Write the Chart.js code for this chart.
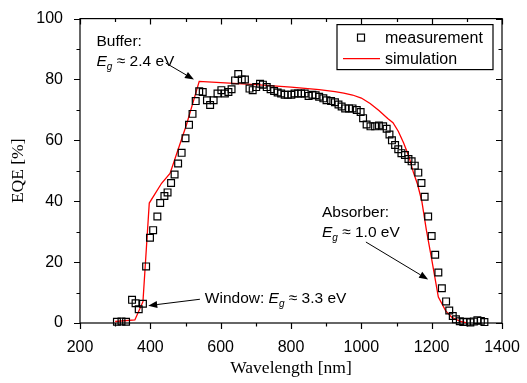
<!DOCTYPE html>
<html>
<head>
<meta charset="utf-8">
<script src="https://cdn.jsdelivr.net/npm/chart.js@4.4.1/dist/chart.umd.min.js"></script>
<style>
  html, body { margin: 0; padding: 0; background: #fff; }
  #wrap { width: 527px; height: 383px; }
</style>
</head>
<body>
<div id="wrap"><canvas id="eqeChart" width="527" height="383"></canvas></div>
<script>
// measured EQE (squares)
var measWavelength = [305, 318, 331, 348, 358, 367, 379, 388, 399, 408, 420, 428, 440, 449, 459, 469, 479, 489, 500, 510, 520, 529, 539, 549, 561, 570, 580, 591, 602, 612, 622, 631, 641, 650, 660, 669, 682, 691, 701, 712, 720, 731, 742, 752, 762, 772, 782, 791, 801, 810, 820, 829, 839, 850, 861, 870, 880, 892, 901, 914, 925, 935, 944, 954, 965, 975, 987, 998, 1005, 1015, 1026, 1039, 1050, 1062, 1072, 1080, 1087, 1096, 1105, 1114, 1124, 1134, 1143, 1152, 1162, 1171, 1180, 1190, 1200, 1210, 1219, 1229, 1241, 1250, 1260, 1269, 1280, 1290, 1300, 1310, 1320, 1330, 1340, 1350];
var measEQE = [0.4, 0.5, 0.4, 7.6, 6.5, 4.5, 6.3, 18.6, 28, 30.5, 35, 39.4, 41.7, 42.9, 46, 48.8, 52.4, 55.9, 60.7, 65.1, 68.7, 72.9, 76.1, 75.9, 73.2, 71.6, 73.2, 75.4, 76.5, 75.4, 75.9, 76.8, 79.7, 81.8, 80, 80, 77, 76.5, 77.5, 78.6, 78.3, 77.5, 76.8, 76.2, 75.7, 75.4, 75, 75, 75, 75.4, 75.4, 75.4, 75.4, 74.6, 75, 74.8, 74.3, 73.8, 73.2, 72.9, 72.5, 71.8, 71.1, 70.5, 70.5, 70.5, 70, 69.3, 67.3, 65.2, 64.6, 64.6, 64.9, 64.6, 63.8, 61.9, 60, 58.5, 57.1, 55.8, 55.2, 53.9, 53.1, 51.7, 49.4, 46, 41.5, 35, 28.6, 22.4, 16.6, 11.4, 7.1, 4.1, 2.3, 1.2, 0.6, 0.3, 0.4, 0.2, 0.5, 0.9, 0.7, 0.3];

// simulated EQE (red line)
var simWavelength = [300, 356, 379, 397, 432, 456, 503, 539, 600, 700, 800, 880, 925, 950, 975, 1000, 1025, 1050, 1075, 1090, 1105, 1120, 1135, 1148, 1160, 1172, 1185, 1200, 1219, 1240, 1257, 1280, 1300];
var simEQE = [0.5, 1, 7, 39.4, 45.9, 49.1, 65.2, 79.4, 79.0, 78.3, 77.5, 76.7, 76.0, 75.5, 74.9, 73.9, 72.1, 69.8, 67.2, 65.8, 63.0, 59.2, 54.8, 49.5, 45.5, 40, 30.5, 21, 8.5, 4, 1.9, 0.6, 0];

// axis tick labels
var xTicks = [200, 400, 600, 800, 1000, 1200, 1400];
var yTicks = [0, 20, 40, 60, 80, 100];

var SANS = "'Liberation Sans', Arial, sans-serif";
var SERIF = "'Liberation Serif', 'Times New Roman', serif";

Chart.defaults.color = "#000";
Chart.defaults.font.family = SANS;

function toPoints(xs, ys) {
  return xs.map(function (x, i) { return { x: x, y: ys[i] }; });
}

// frame on all four sides, ticks out on bottom/left, in on top/right
var frameAndTicks = {
  id: "frameAndTicks",
  beforeDatasetsDraw: function (chart) {
    var ctx = chart.ctx, a = chart.chartArea;
    var xs = chart.scales.x, ys = chart.scales.y;
    var major = 6, minor = 3.5;
    ctx.save();
    ctx.strokeStyle = "#000";
    ctx.lineWidth = 1.2;
    ctx.strokeRect(a.left, a.top, a.right - a.left, a.bottom - a.top);
    ctx.beginPath();
    var xStep = (xTicks[1] - xTicks[0]) / 2;
    for (var v = xTicks[0]; v <= xTicks[xTicks.length - 1]; v += xStep) {
      var len = xTicks.indexOf(v) >= 0 ? major : minor;
      var px = Math.round(xs.getPixelForValue(v)) + 0.5;
      ctx.moveTo(px, a.bottom); ctx.lineTo(px, a.bottom + len);
      ctx.moveTo(px, a.top); ctx.lineTo(px, a.top + len);
    }
    var yStep = (yTicks[1] - yTicks[0]) / 2;
    for (var w = yTicks[0]; w <= yTicks[yTicks.length - 1]; w += yStep) {
      var ylen = yTicks.indexOf(w) >= 0 ? major : minor;
      var py = Math.round(ys.getPixelForValue(w)) + 0.5;
      ctx.moveTo(a.left, py); ctx.lineTo(a.left - ylen, py);
      ctx.moveTo(a.right, py); ctx.lineTo(a.right - ylen, py);
    }
    ctx.stroke();
    ctx.restore();
  }
};

function arrow(ctx, x1, y1, x2, y2) {
  var ang = Math.atan2(y2 - y1, x2 - x1), hl = 9, hw = 3.5;
  ctx.beginPath();
  ctx.moveTo(x1, y1);
  ctx.lineTo(x2 - hl * Math.cos(ang), y2 - hl * Math.sin(ang));
  ctx.stroke();
  ctx.beginPath();
  ctx.moveTo(x2, y2);
  ctx.lineTo(x2 - hl * Math.cos(ang) + hw * Math.sin(ang), y2 - hl * Math.sin(ang) - hw * Math.cos(ang));
  ctx.lineTo(x2 - hl * Math.cos(ang) - hw * Math.sin(ang), y2 - hl * Math.sin(ang) + hw * Math.cos(ang));
  ctx.closePath();
  ctx.fill();
}

// draws "E_g <rest>" starting at x, baseline y; returns end x
function drawEg(ctx, x, y, rest) {
  ctx.font = "italic 15.5px " + SANS;
  ctx.fillText("E", x, y);
  x += ctx.measureText("E").width;
  ctx.font = "italic 10px " + SANS;
  ctx.fillText("g", x, y + 4);
  x += ctx.measureText("g").width;
  ctx.font = "15.5px " + SANS;
  ctx.fillText(rest, x, y);
  return x + ctx.measureText(rest).width;
}

var notes = {
  id: "notes",
  afterDraw: function (chart) {
    var ctx = chart.ctx, xs = chart.scales.x, ys = chart.scales.y, a = chart.chartArea;
    function X(v) { return xs.getPixelForValue(v); }
    function Y(v) { return ys.getPixelForValue(v); }
    ctx.save();
    ctx.fillStyle = "#000";
    ctx.strokeStyle = "#000";
    ctx.lineWidth = 1;
    ctx.textBaseline = "alphabetic";
    ctx.textAlign = "left";

    // buffer
    ctx.font = "15.5px " + SANS;
    ctx.fillText("Buffer:", X(247), Y(91));
    drawEg(ctx, X(247), Y(84.5), " \u2248 2.4 eV");
    arrow(ctx, X(444), Y(85.4), X(524), Y(80));

    // absorber
    ctx.font = "15.5px " + SANS;
    ctx.fillText("Absorber:", X(888), Y(34.9));
    drawEg(ctx, X(888), Y(28.2), " \u2248 1.0 eV");
    arrow(ctx, X(1013), Y(26.6), X(1190), Y(14.3));

    // window
    ctx.font = "15.5px " + SANS;
    ctx.fillText("Window: ", X(555), Y(6.6));
    var wx = X(555) + ctx.measureText("Window: ").width;
    drawEg(ctx, wx, Y(6.6), " \u2248 3.3 eV");
    arrow(ctx, X(541), Y(7.8), X(394), Y(5.7));

    // legend box, top right of plot area
    var ds = chart.data.datasets;
    var bx = a.right - 165, by = a.top + 6, bw = 156, bh = 45;
    ctx.lineWidth = 1.2;
    ctx.strokeRect(bx, by, bw, bh);
    ctx.font = "16px " + SANS;
    ctx.textBaseline = "middle";
    var rows = [by + 13, by + 34];
    // measurement symbol
    var s = 7;
    ctx.strokeStyle = ds[0].borderColor;
    ctx.strokeRect(bx + 24 - s / 2, rows[0] - s / 2, s, s);
    ctx.fillText(ds[0].label, bx + 48, rows[0] + 1);
    // simulation line
    ctx.strokeStyle = ds[1].borderColor;
    ctx.beginPath();
    ctx.moveTo(bx + 6, rows[1]);
    ctx.lineTo(bx + 43, rows[1]);
    ctx.stroke();
    ctx.fillText(ds[1].label, bx + 48, rows[1] + 1);
    ctx.restore();
  }
};

var ctx = document.getElementById("eqeChart").getContext("2d");
var eqeChart = new Chart(ctx, {
  type: "scatter",
  data: {
    datasets: [
      {
        label: "measurement",
        data: toPoints(measWavelength, measEQE),
        showLine: false,
        pointStyle: "rect",
        pointRadius: 4.8,
        borderColor: "#000",
        backgroundColor: "rgba(0,0,0,0)",
        borderWidth: 1.2,
        clip: false,
      },
      {
        label: "simulation",
        data: toPoints(simWavelength, simEQE),
        showLine: true,
        pointRadius: 0,
        borderColor: "#ff0000",
        backgroundColor: "#ff0000",
        borderWidth: 1.3,
        fill: false,
        tension: 0,
      },
    ],
  },
  options: {
    responsive: false,
    animation: false,
    events: [],
    layout: { padding: { top: 12, right: 25, left: 0, bottom: 0 } },
    plugins: {
      legend: { display: false },
      tooltip: { enabled: false },
    },
    scales: {
      x: {
        type: "linear",
        min: xTicks[0],
        max: xTicks[xTicks.length - 1],
        afterBuildTicks: function (scale) {
          scale.ticks = xTicks.map(function (v) { return { value: v }; });
        },
        afterFit: function (scale) { scale.height = 60; },
        grid: { display: false },
        border: { display: false },
        ticks: {
          font: { size: 16, family: SANS },
          padding: 7,
          maxRotation: 0,
          callback: function (value) { return String(value); },
        },
        title: {
          display: true,
          text: "Wavelength [nm]",
          font: { size: 17.5, family: SERIF },
          padding: { top: 4, bottom: 4 },
        },
      },
      y: {
        type: "linear",
        min: yTicks[0],
        max: yTicks[yTicks.length - 1],
        afterBuildTicks: function (scale) {
          scale.ticks = yTicks.map(function (v) { return { value: v }; });
        },
        afterFit: function (scale) { scale.width = 80; },
        grid: { display: false },
        border: { display: false },
        ticks: {
          font: { size: 16, family: SANS },
          padding: 9,
          callback: function (value) { return String(value); },
        },
        title: {
          display: true,
          text: "EQE [%]",
          font: { size: 17.5, family: SERIF },
          padding: { top: 8, bottom: 4 },
        },
      },
    },
  },
  plugins: [frameAndTicks, notes],
});
</script>
</body>
</html>
